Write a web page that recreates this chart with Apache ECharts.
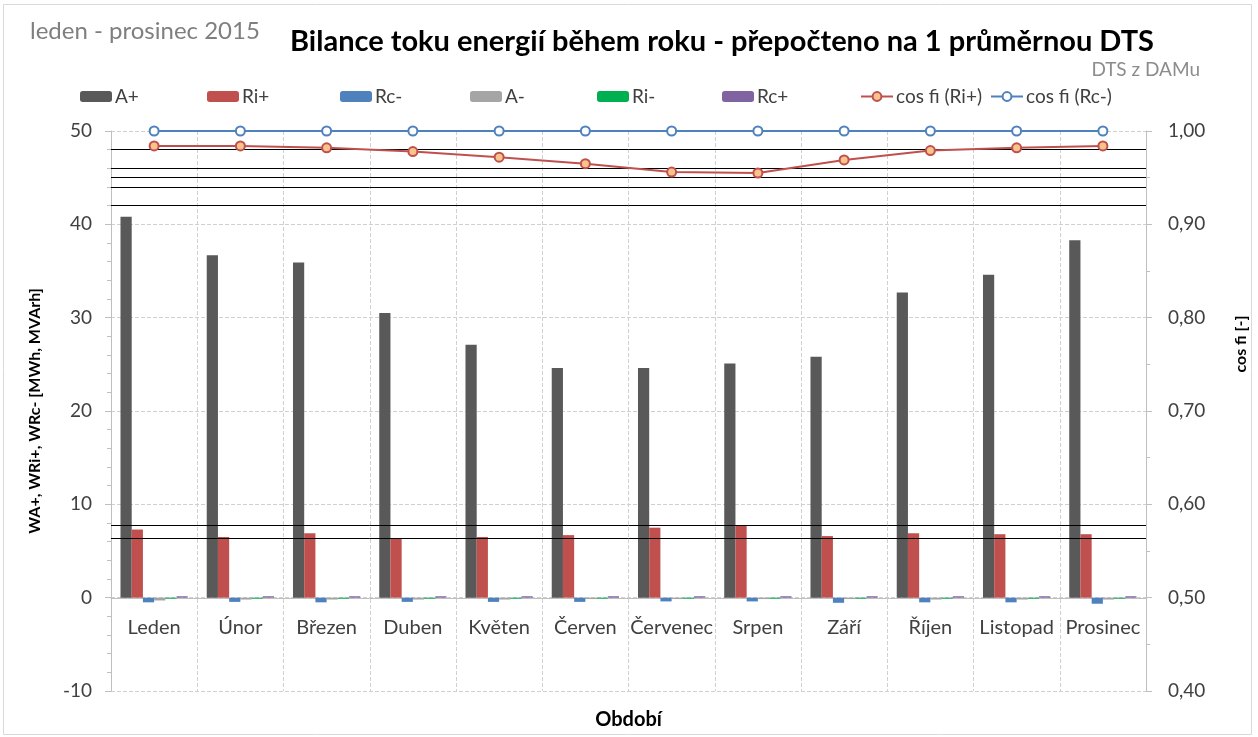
<!DOCTYPE html>
<html><head><meta charset="utf-8">
<script src="https://cdn.jsdelivr.net/npm/echarts@6/dist/echarts.min.js"></script>
<style>html,body{margin:0;padding:0;background:#fff}#c{width:1258px;height:737px}</style>
</head><body><div id="c"></div>
<script>
const categories = ['Leden','Únor','Březen','Duben','Květen','Červen','Červenec','Srpen','Září','Říjen','Listopad','Prosinec'];
const aPlus  = [40.8, 36.7, 35.9, 30.5, 27.1, 24.6, 24.6, 25.1, 25.8, 32.7, 34.6, 38.3];
const riPlus = [7.3, 6.5, 6.9, 6.3, 6.5, 6.7, 7.5, 7.7, 6.6, 6.9, 6.8, 6.8];
const rcMinus = [-0.5, -0.45, -0.5, -0.45, -0.45, -0.45, -0.4, -0.4, -0.55, -0.5, -0.5, -0.65];
const aMinus = [-0.3, -0.2, -0.2, -0.2, -0.2, -0.15, -0.15, -0.15, -0.15, -0.2, -0.2, -0.2];
const riMinus = [-0.1, -0.1, -0.1, -0.1, -0.1, -0.1, -0.1, -0.1, -0.1, -0.1, -0.1, -0.1];
const rcPlus = [0.15, 0.15, 0.15, 0.15, 0.15, 0.15, 0.15, 0.15, 0.15, 0.15, 0.15, 0.15];
const cosRi = [0.984, 0.984, 0.982, 0.978, 0.972, 0.965, 0.956, 0.955, 0.969, 0.979, 0.982, 0.984];
const cosRc = [1.00, 1.00, 1.00, 1.00, 1.00, 1.00, 1.00, 1.00, 1.00, 1.00, 1.00, 1.00];
const leftTicks = {min: -10, max: 50, interval: 10};
const rightTicks = {min: 0.4, max: 1.0, interval: 0.1};
const refLines = [48, 46, 45, 44, 42, 7.8, 6.4];
const seriesNames = ['A+','Ri+','Rc-','A-','Ri-','Rc+','cos fi (Ri+)','cos fi (Rc-)'];

const FONT = 'Lato, "Open Sans", sans-serif';
const colors = ['#595959','#c0504d','#4f81bd','#a5a5a5','#00b050','#8064a2','#c0504d','#4f81bd'];
const barData = [aPlus, riPlus, rcMinus, aMinus, riMinus, rcPlus];
const legendLeft = [80, 207, 340, 470, 597, 722, 860, 990];

const series = barData.map((d, i) => ({
  name: seriesNames[i], type: 'bar', yAxisIndex: 0, data: d,
  itemStyle: {color: colors[i]}, barGap: 0, barCategoryGap: '22%'
}));
series[0].markLine = {
  silent: true, symbol: 'none', animation: false,
  label: {show: false},
  lineStyle: {color: '#000', width: 1, type: 'solid'},
  data: refLines.map(v => ({yAxis: v}))
};
series.push({
  name: seriesNames[6], type: 'line', yAxisIndex: 1, data: cosRi, z: 5,
  symbol: 'circle', symbolSize: 9,
  lineStyle: {color: '#c0504d', width: 2},
  itemStyle: {color: '#f8c48c', borderColor: '#c0504d', borderWidth: 2}
});
series.push({
  name: seriesNames[7], type: 'line', yAxisIndex: 1, data: cosRc, z: 5,
  symbol: 'circle', symbolSize: 9,
  lineStyle: {color: '#4f81bd', width: 2},
  itemStyle: {color: '#ffffff', borderColor: '#4f81bd', borderWidth: 2}
});

const legends = seriesNames.map((n, i) => ({
  data: [n], left: legendLeft[i], top: 87, padding: 0, itemWidth: 32, itemHeight: 11, itemGap: 0,
  textStyle: {fontFamily: FONT, fontSize: 19, color: '#404040', padding: [0,0,0,-2]},
  selectedMode: false
}));

const chart = echarts.init(document.getElementById('c'), null, {renderer: 'canvas'});
chart.setOption({
  animation: false,
  textStyle: {fontFamily: FONT},
  graphic: [
    {type: 'rect', shape: {x: 3.5, y: 4.5, width: 1248, height: 730}, style: {fill: 'none', stroke: '#d9d9d9', lineWidth: 1}, silent: true},
    {type: 'text', left: 30, top: 19, style: {text: 'leden - prosinec 2015', fontFamily: FONT, fontSize: 24, fill: '#7f7f7f'}},
    {type: 'text', right: 58, top: 60, style: {text: 'DTS z DAMu', fontFamily: FONT, fontSize: 19, fill: '#8c8c8c'}},
    {type: 'text', x: 1241, y: 344, rotation: Math.PI / 2,
      style: {text: 'cos fi [-]', fontFamily: FONT, fontSize: 16, fontWeight: 'bold', fill: '#000', align: 'center', verticalAlign: 'middle'}}
  ],
  title: {
    text: 'Bilance toku energií během roku - přepočteno na 1 průměrnou DTS',
    left: 285, top: 22,
    textStyle: {fontFamily: FONT, fontSize: 29, fontWeight: 'bold', color: '#000'}
  },
  legend: legends,
  grid: {left: 111, right: 112, top: 131, bottom: 46, containLabel: false, outerBoundsMode: 'none'},
  xAxis: {
    type: 'category', data: categories, boundaryGap: true, position: 'bottom', offset: -93,
    axisLine: {onZero: false, lineStyle: {color: '#bfbfbf', width: 1}},
    axisTick: {show: false},
    axisLabel: {fontFamily: FONT, fontSize: 20, color: '#404040', margin: 20, interval: 0},
    splitLine: {show: true, interval: 0, lineStyle: {color: '#d0d0d0', type: 'dashed'}},
    name: 'Období', nameLocation: 'middle', nameGap: 112,
    nameTextStyle: {fontFamily: FONT, fontSize: 20, fontWeight: 'bold', color: '#000'}
  },
  yAxis: [
    {
      type: 'value', min: leftTicks.min, max: leftTicks.max, interval: leftTicks.interval,
      axisLine: {show: true, lineStyle: {color: '#bfbfbf'}},
      axisTick: {show: true, length: 6, lineStyle: {color: '#bfbfbf'}},
      minorTick: {show: true, splitNumber: 5, length: 4, lineStyle: {color: '#bfbfbf'}},
      axisLabel: {fontFamily: FONT, fontSize: 19, color: '#404040', margin: 19},
      splitLine: {show: true, lineStyle: {color: '#d0d0d0', type: 'dashed'}},
      name: 'WA+, WRi+, WRc- [MWh, MVArh]', nameLocation: 'middle', nameGap: 68,
      nameTextStyle: {fontFamily: FONT, fontSize: 16, fontWeight: 'bold', color: '#000'}
    },
    {
      type: 'value', min: rightTicks.min, max: rightTicks.max, interval: rightTicks.interval,
      position: 'right',
      axisLine: {show: true, lineStyle: {color: '#bfbfbf'}},
      axisTick: {show: true, length: 6, lineStyle: {color: '#bfbfbf'}},
      minorTick: {show: true, splitNumber: 2, length: 4, lineStyle: {color: '#bfbfbf'}},
      axisLabel: {fontFamily: FONT, fontSize: 19, color: '#404040', margin: 22,
        formatter: v => v.toFixed(2).replace('.', ',')},
      splitLine: {show: false}
    }
  ],
  series: series
});
</script></body></html>
